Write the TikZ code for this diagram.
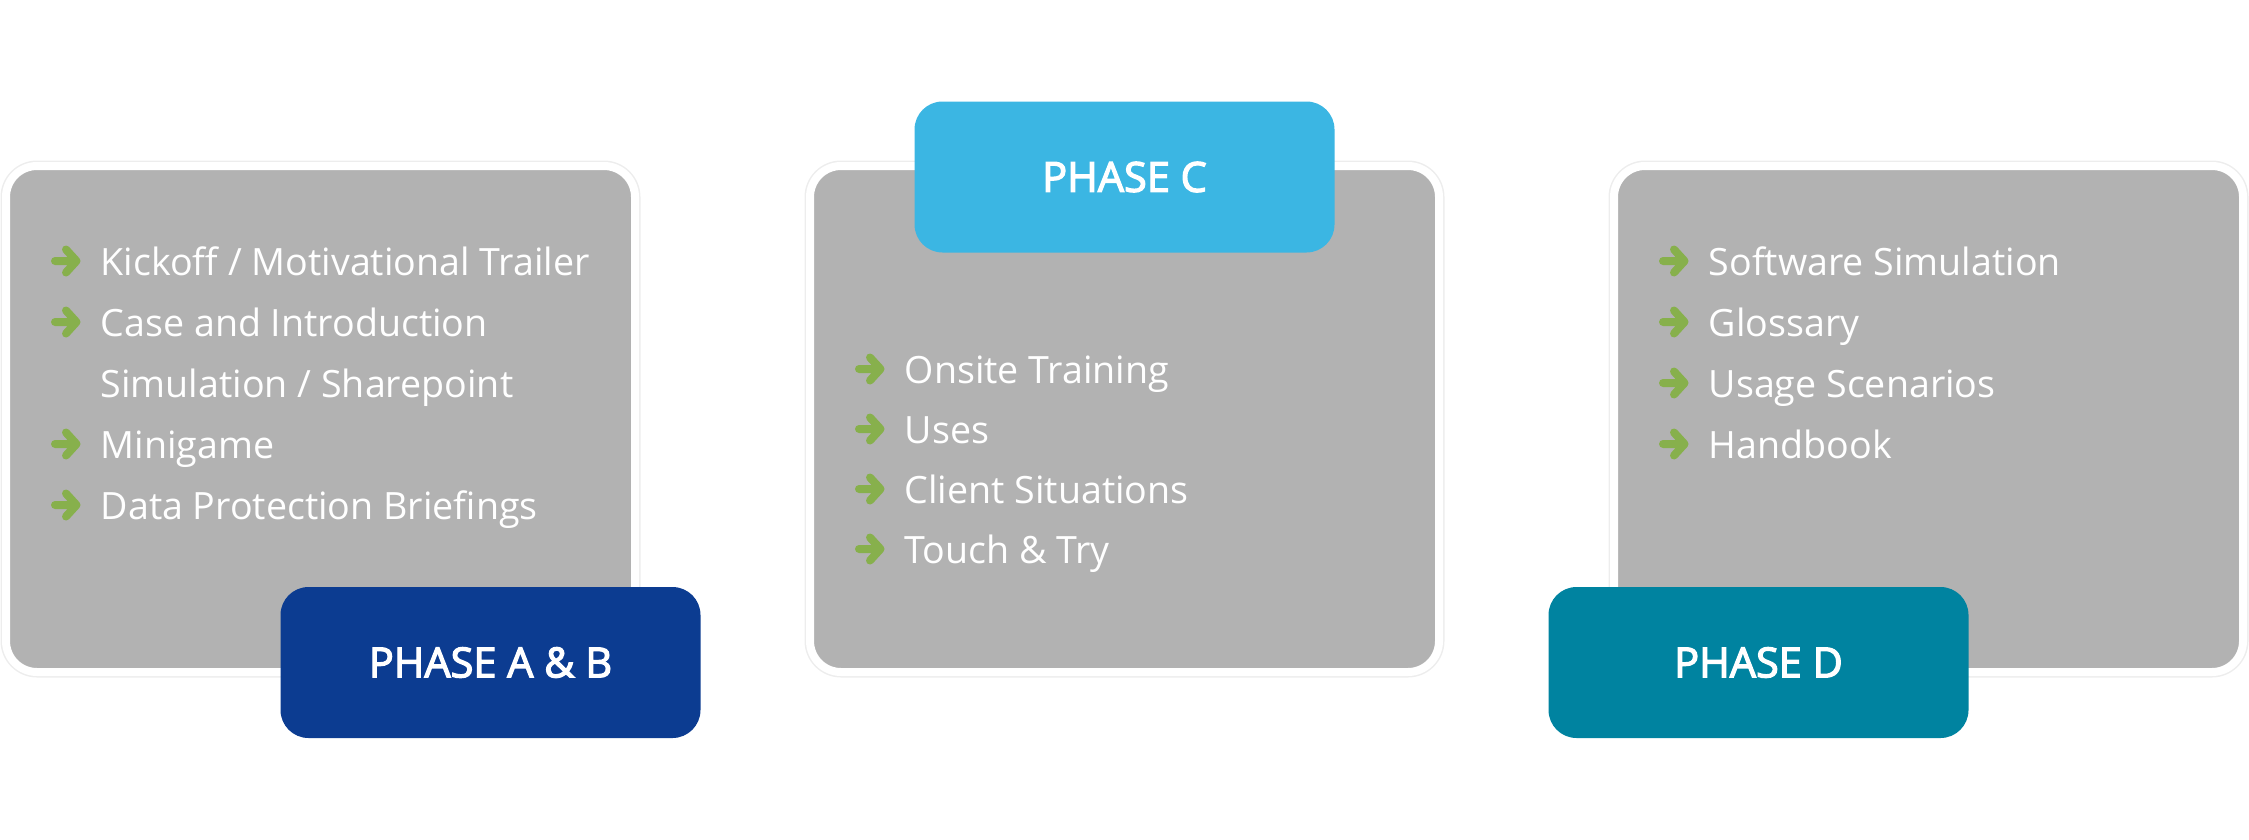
\documentclass[tikz,border=0pt]{standalone}
\usepackage{fontspec}
\setmainfont{Open Sans}
\newfontfamily\phasefont{Open Sans}[FakeBold=3]
\usepackage{tikz}
\usetikzlibrary{positioning,calc}

\definecolor{boxgray}{HTML}{B2B2B2}
\definecolor{phaseab}{HTML}{0C3C91}
\definecolor{phasec}{HTML}{3BB6E3}
\definecolor{phased}{HTML}{0083A0}
\definecolor{arrowgreen}{HTML}{87B04C}

\tikzset{greenarrow/.pic={
    \draw[arrowgreen, line width=0.08cm, line cap=round, line join=round]
      (0.04,0) -- (0.24,0) (0.15,0.115) -- (0.255,0) -- (0.15,-0.115);
  }}

\begin{document}
\begin{tikzpicture}
        \tikzstyle{panel} = [rectangle, inner sep=0, outer sep=0,
                             minimum width=6.29cm, minimum height=5.06cm,
                             rounded corners=0.31cm, fill=boxgray, draw=white,
                             line width=0.08cm,
                             preaction={draw=black!7, line width=0.11cm}]
        \tikzstyle{phase} = [rectangle, inner sep=0, minimum width=4.2cm,
                             minimum height=1.51cm, rounded corners=0.28cm,
                             text=white, font=\fontsize{11.8}{14}\phasefont]
        \tikzstyle{item} = [inner sep=0, anchor=base west, text=white,
                            font=\fontsize{10.7}{13}\selectfont]
        \useasboundingbox (0,0) rectangle (22.49,8.39);
        % gray panels
        \node[panel] (boxAB) at (3.205,4.20) {};
        \node[panel, right=1.75cm of boxAB] (boxC) {};
        \node[panel, right=1.75cm of boxC] (boxD) {};
        % phase A & B
        \node[item] (ab1) at ($(boxAB.north west)+(0.94,-1.09)$)
          {Kickoff / Motivational Trailer};
        \node[item, below=0.61cm of ab1.base west, anchor=base west] (ab2)
          {Case and Introduction};
        \node[item, below=0.61cm of ab2.base west, anchor=base west] (ab3)
          {Simulation / Sharepoint};
        \node[item, below=0.61cm of ab3.base west, anchor=base west] (ab4)
          {Minigame};
        \node[item, below=0.61cm of ab4.base west, anchor=base west] (ab5)
          {Data Protection Briefings};
        \pic at ($(ab1.base west)+(-0.49,0.14)$) {greenarrow};
        \pic at ($(ab2.base west)+(-0.49,0.14)$) {greenarrow};
        \pic at ($(ab4.base west)+(-0.49,0.14)$) {greenarrow};
        \pic at ($(ab5.base west)+(-0.49,0.14)$) {greenarrow};
        % phase C
        \node[item] (c1) at ($(boxC.north west)+(0.94,-2.17)$)
          {Onsite Training};
        \node[item, below=0.60cm of c1.base west, anchor=base west] (c2)
          {Uses};
        \node[item, below=0.60cm of c2.base west, anchor=base west] (c3)
          {Client Situations};
        \node[item, below=0.60cm of c3.base west, anchor=base west] (c4)
          {Touch \& Try};
        \pic at ($(c1.base west)+(-0.49,0.14)$) {greenarrow};
        \pic at ($(c2.base west)+(-0.49,0.14)$) {greenarrow};
        \pic at ($(c3.base west)+(-0.49,0.14)$) {greenarrow};
        \pic at ($(c4.base west)+(-0.49,0.14)$) {greenarrow};
        % phase D
        \node[item] (d1) at ($(boxD.north west)+(0.94,-1.09)$)
          {Software Simulation};
        \node[item, below=0.61cm of d1.base west, anchor=base west] (d2)
          {Glossary};
        \node[item, below=0.61cm of d2.base west, anchor=base west] (d3)
          {Usage Scenarios};
        \node[item, below=0.61cm of d3.base west, anchor=base west] (d4)
          {Handbook};
        \pic at ($(d1.base west)+(-0.49,0.14)$) {greenarrow};
        \pic at ($(d2.base west)+(-0.49,0.14)$) {greenarrow};
        \pic at ($(d3.base west)+(-0.49,0.14)$) {greenarrow};
        \pic at ($(d4.base west)+(-0.49,0.14)$) {greenarrow};
        % phase labels
        \node[phase, fill=phaseab] (phaseAB) at ($(boxAB.south)+(1.7,0.095)$)
          {PHASE A \& B};
        \node[phase, fill=phasec] (phaseC) at ($(boxC.north)+(0,-0.11)$)
          {PHASE C};
        \node[phase, fill=phased] (phaseD) at ($(boxD.south)+(-1.7,0.095)$)
          {PHASE D};
      \end{tikzpicture}
\end{document}
